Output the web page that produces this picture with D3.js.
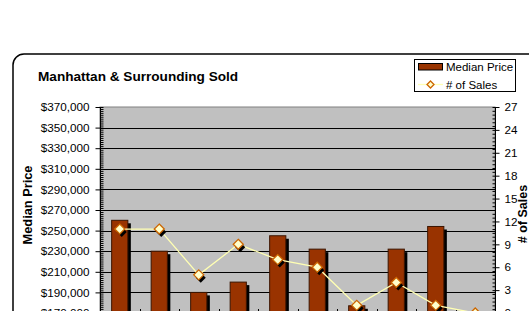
<!DOCTYPE html>
<html><head><meta charset="utf-8">
<script src="https://cdn.jsdelivr.net/npm/d3@7"></script>
<style>
html,body{margin:0;padding:0;background:#fff;overflow:hidden}
text{font-family:"Liberation Sans",Arial,sans-serif}
</style></head>
<body>
<svg id="c" width="529" height="311"></svg>
<script>
const categories = ["1","2","3","4","5","6","7","8","9","10"];
const medianPrice = [260000,230000,190000,200000,245000,232000,177000,232000,254000,0];
const numSales = [11,11,5,9,7,6,1,4,1,0];
const priceTicks = [170000,190000,210000,230000,250000,270000,290000,310000,330000,350000,370000];
const salesTicks = [0,3,6,9,12,15,18,21,24,27];

const svg = d3.select("#c");
const L=100, R=495, T=107, B=313;

svg.append("rect").attr("width",529).attr("height",311).attr("fill","#fff");
// chart area border
svg.append("rect").attr("x",13).attr("y",54).attr("width",560).attr("height",320)
  .attr("rx",11).attr("fill","#fff").attr("stroke","#000").attr("stroke-width",1.5);

const x = d3.scaleBand().domain(categories).range([L,R]);
const yL = d3.scaleLinear().domain([170000,370000]).range([B,T]);
const yR = d3.scaleLinear().domain([0,27]).range([B,T]);

// plot area
svg.append("rect").attr("x",L).attr("y",T).attr("width",R-L).attr("height",B-T)
  .attr("fill","#C0C0C0").attr("stroke","#808080").attr("stroke-width",1);

// gridlines
svg.append("g").selectAll("line").data(priceTicks.filter(d=>d>170000 && d<370000)).join("line")
  .attr("x1",L).attr("x2",R).attr("y1",d=>Math.round(yL(d))+0.5).attr("y2",d=>Math.round(yL(d))+0.5)
  .attr("stroke","#000").attr("stroke-width",1);

// bars
const bw = x.bandwidth()*0.41;
const bars = svg.append("g");
categories.forEach((c,i)=>{
  const v = medianPrice[i];
  if (v <= 170000) return;
  const bx = x(c)+x.bandwidth()/2-bw/2;
  bars.append("rect").attr("x",bx+3).attr("y",yL(v)+3).attr("width",bw).attr("height",B-yL(v)-3).attr("fill","#000");
  bars.append("rect").attr("x",bx).attr("y",yL(v)).attr("width",bw).attr("height",B-yL(v))
    .attr("fill","#993300").attr("stroke","#3a1500").attr("stroke-width",1);
});

// category boundary ticks
svg.append("g").selectAll("line").data(categories.slice(1)).join("line")
  .attr("x1",d=>Math.round(x(d))+0.5).attr("x2",d=>Math.round(x(d))+0.5)
  .attr("y1",B-4).attr("y2",B+4).attr("stroke","#000");

// sales line
const cx = (c)=>x(c)+x.bandwidth()/2;
const line = d3.line().x((d,i)=>cx(categories[i])).y(d=>yR(d));
svg.append("path").datum(numSales).attr("d",line).attr("fill","none")
  .attr("stroke","#FFFFB3").attr("stroke-width",1.3);
const diamond = (s)=>`M0,${-s}L${s},0L0,${s}L${-s},0Z`;
const mk = svg.append("g");
numSales.forEach((v,i)=>{
  const px = cx(categories[i]), py = yR(v);
  mk.append("path").attr("d",diamond(5)).attr("transform",`translate(${px+2},${py+3})`).attr("fill","#000");
  mk.append("path").attr("d",diamond(5)).attr("transform",`translate(${px},${py})`)
    .attr("fill","#FFFFCC").attr("stroke","#CC6600").attr("stroke-width",1.3);
});

// left axis
const fmt = d3.format("$,");
const la = svg.append("g").attr("transform",`translate(${L+0.5},0)`)
  .call(d3.axisLeft(yL).tickValues(priceTicks).tickFormat(fmt).tickSize(5).tickPadding(6));
la.select(".domain").remove();
la.selectAll("text").attr("font-size","11.7px").attr("fill","#000").attr("font-family","Liberation Sans, Arial");
const lm = svg.append("g").attr("transform",`translate(${L+0.5},0)`)
  .call(d3.axisRight(yL).tickValues(d3.range(170000,370001,2000)).tickFormat("").tickSize(3));
lm.select(".domain").remove();
svg.append("line").attr("x1",L+0.5).attr("x2",L+0.5).attr("y1",T).attr("y2",B+5).attr("stroke","#000");

// right axis
const ra = svg.append("g").attr("transform",`translate(${R+0.5},0)`)
  .call(d3.axisRight(yR).tickValues(salesTicks).tickSize(4).tickPadding(5));
ra.select(".domain").remove();
ra.selectAll("text").attr("font-size","11.7px").attr("fill","#000").attr("font-family","Liberation Sans, Arial");
const rm = svg.append("g").attr("transform",`translate(${R+0.5},0)`)
  .call(d3.axisLeft(yR).tickValues(d3.range(0,27.01,0.5)).tickFormat("").tickSize(3));
rm.select(".domain").remove();
svg.append("line").attr("x1",R+0.5).attr("x2",R+0.5).attr("y1",T).attr("y2",B+5).attr("stroke","#000");

// title
svg.append("text").attr("x",38).attr("y",81).attr("font-size","13.6px").attr("font-weight","bold")
  .text("Manhattan & Surrounding Sold");
svg.append("text").attr("transform","translate(32,205) rotate(-90)").attr("text-anchor","middle")
  .attr("font-size","12.8px").attr("font-weight","bold").text("Median Price");
svg.append("text").attr("transform","translate(527,214) rotate(-90)").attr("text-anchor","middle")
  .attr("font-size","12.5px").attr("font-weight","bold").text("# of Sales");

// legend
const lg = svg.append("g");
lg.append("rect").attr("x",414.5).attr("y",59.5).attr("width",101).attr("height",32).attr("fill","#fff").attr("stroke","#000");
lg.append("rect").attr("x",418.5).attr("y",63.5).attr("width",24).attr("height",6.5).attr("fill","#993300").attr("stroke","#000");
lg.append("text").attr("x",446).attr("y",71).attr("font-size","11.5px").text("Median Price");
lg.append("line").attr("x1",418).attr("x2",443).attr("y1",84.5).attr("y2",84.5).attr("stroke","#FFFFB3").attr("stroke-width",1.3);
lg.append("path").attr("d",diamond(3.5)).attr("transform","translate(430.5,84.5)").attr("fill","#FFFFCC").attr("stroke","#CC6600").attr("stroke-width",1.3);
lg.append("text").attr("x",446).attr("y",88.5).attr("font-size","11.5px").text("# of Sales");
</script>
</body></html>
